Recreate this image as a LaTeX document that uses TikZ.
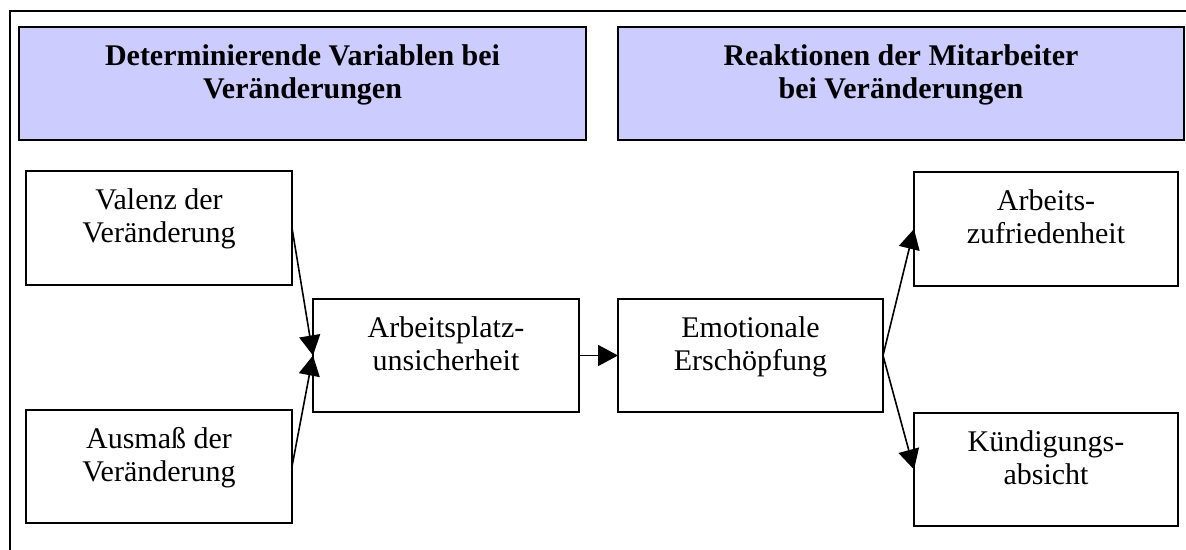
\documentclass[tikz,border=0pt]{standalone}
\usepackage{fontspec}
\setmainfont{Liberation Serif}
\usetikzlibrary{arrows.meta}
\definecolor{headfill}{HTML}{CCCCFF}
\tikzset{
  boxnode/.style={draw=black, line width=1pt, inner sep=0pt, outer sep=0pt, anchor=north west},
  headnode/.style={boxnode, fill=headfill},
  txt/.style={anchor=north, inner sep=0pt, outer sep=0pt, align=center, yshift=-8.75pt, font=\fontsize{15}{16.5}\selectfont},
  htxt/.style={txt, font=\fontsize{15}{16.5}\selectfont\bfseries},
  arr/.style={-{Triangle[length=10pt,width=10.5pt]}, line width=0.8pt},
  frame/.style={draw=black, line width=1pt}
}
\begin{document}
\begin{tikzpicture}[x=0.5pt,y=-0.5pt]
\clip (0,0) rectangle (1186,550);
\fill[white] (0,0) rectangle (1186,550);
\draw[frame] (10,11) rectangle (1210,580);

% headers
\node[headnode, minimum width=283.5pt, minimum height=56.5pt] (h1) at (19,27) {};
\node[headnode, minimum width=283pt, minimum height=56.5pt] (h2) at (618,27) {};
\node[htxt] (h1t) at (h1.north) {Determinierende Variablen bei\\Veränderungen};
\node[htxt] (h2t) at (h2.north) {Reaktionen der Mitarbeiter\\bei Veränderungen};

% boxes
\node[boxnode, minimum width=133pt, minimum height=57pt] (v) at (26,171) {};
\node[boxnode, minimum width=133pt, minimum height=56.5pt] (a) at (26,410) {};
\node[boxnode, minimum width=133pt, minimum height=56.5pt] (ap) at (313,299) {};
\node[boxnode, minimum width=132.5pt, minimum height=56.5pt] (ee) at (618,299) {};
\node[boxnode, minimum width=132pt, minimum height=57pt] (az) at (914,172) {};
\node[boxnode, minimum width=132pt, minimum height=56.5pt] (ka) at (914,413) {};

\node[txt] (vt) at (v.north) {Valenz der\\Veränderung};
\node[txt] (at) at (a.north) {Ausmaß der\\Veränderung};
\node[txt] (apt) at (ap.north) {Arbeitsplatz-\\unsicherheit};
\node[txt] (eet) at (ee.north) {Emotionale\\Erschöpfung};
\node[txt] (azt) at (az.north) {Arbeits-\\zufriedenheit};
\node[txt] (kat) at (ka.north) {Kündigungs-\\absicht};

% connectors
\draw[arr] (v.east) -- (ap.west);
\draw[arr] (a.east) -- (ap.west);
\draw[arr] (ap.east) -- (ee.west);
\draw[arr] (ee.east) -- (az.west);
\draw[arr] (ee.east) -- (ka.west);
\end{tikzpicture}
\end{document}
